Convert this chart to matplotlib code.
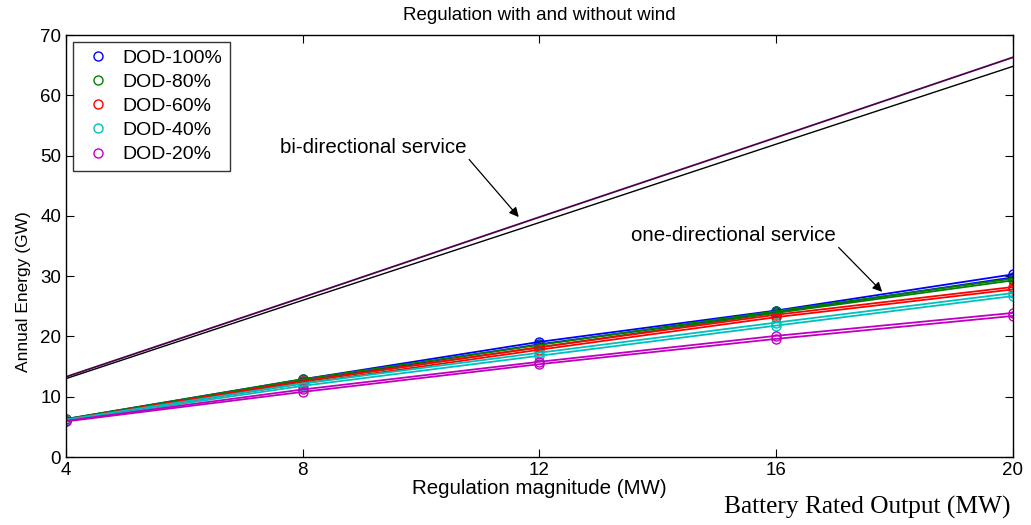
import matplotlib
matplotlib.use('Agg')
from matplotlib import pyplot as plt
import numpy as np

plt.rcParams['font.family'] = ['Liberation Sans', 'DejaVu Sans']

# regulation magnitude (MW)
mw = [4, 8, 12, 16, 20]

# bi-directional service, with / without wind
bi_a = [13.3, 26.5, 39.8, 53.0, 66.3]
bi_b = [13.0, 26.0, 38.9, 51.9, 64.8]

# one-directional service, two runs per depth of discharge
labels = ['DOD-100%', 'DOD-80%', 'DOD-60%', 'DOD-40%', 'DOD-20%']
dod100 = [[6.3, 12.9, 19.1, 24.3, 30.3], [6.2, 12.6, 18.7, 24.0, 29.8]]
dod80 = [[6.3, 12.9, 18.6, 24.2, 29.6], [6.2, 12.5, 18.2, 23.9, 29.3]]
dod60 = [[6.2, 12.6, 18.2, 23.6, 28.2], [6.1, 12.2, 17.8, 23.2, 27.8]]
dod40 = [[6.2, 12.2, 17.3, 22.3, 27.2], [6.0, 11.8, 16.8, 21.8, 26.7]]
dod20 = [[6.0, 11.2, 15.8, 20.1, 23.9], [5.9, 10.8, 15.4, 19.6, 23.4]]
series = [dod100, dod80, dod60, dod40, dod20]
cols = [(0, 0, 1), (0, 0.5, 0), (1, 0, 0), (0, 0.75, 0.75), (0.75, 0, 0.75)]

fig = plt.figure(figsize=(10.31, 5.25), dpi=100)
ax = fig.add_axes([0.064, 0.1295, 0.9185, 0.8038])

ax.plot(mw, bi_a, color=(0.3, 0, 0.3), lw=1.3)
ax.plot(mw, bi_b, color='k', lw=1.0)

handles = []
for s, c, lab in zip(series, cols, labels):
    for k, run in enumerate(s):
        h, = ax.plot(mw, run, 'o', mfc='none', mec=c, ms=6.5, mew=1.0,
                     label=lab if k == 0 else None)
        if k == 0:
            handles.append(h)
for s, c in zip(series, cols):
    for run in s:
        ax.plot(mw, run, '-', color=c, lw=1.3)

ax.set_xlim(4, 20)
ax.set_ylim(0, 70)
ax.set_xticks(mw)
ax.set_yticks(np.arange(0, 71, 10))
ax.tick_params(direction='in', top=True, right=True, labelsize=13.5, length=6, width=0.8)
for sp in ax.spines.values():
    sp.set_linewidth(1.0)

ax.set_title('Regulation with and without wind', fontsize=13.5, pad=11)
ax.set_xlabel('Regulation magnitude (MW)', fontsize=14.8, labelpad=0)
ax.set_ylabel('Annual Energy (GW)', fontsize=12.5)
ax.yaxis.set_label_coords(-0.037, 0.393)

leg = ax.legend(handles=handles, loc='upper left', fontsize=14, frameon=True,
                fancybox=False, edgecolor='k', borderaxespad=0.35,
                handletextpad=0.35, labelspacing=0.33, handlelength=1.8)
leg.get_frame().set_linewidth(1.0)

ax.annotate('bi-directional service', xy=(11.65, 39.8), xytext=(7.62, 51.4),
            fontsize=14.8, va='center', ha='left',
            arrowprops=dict(arrowstyle='-|>', color='k', lw=0.9,
                            shrinkA=0, shrinkB=0, mutation_scale=14,
                            relpos=(1.0, 0.0)))
ax.annotate('one-directional service', xy=(17.79, 27.4), xytext=(13.55, 36.8),
            fontsize=14.8, va='center', ha='left',
            arrowprops=dict(arrowstyle='-|>', color='k', lw=0.9,
                            shrinkA=0, shrinkB=0, mutation_scale=14,
                            relpos=(1.0, 0.0)))

fig.text(0.98, 0.012, 'Battery Rated Output (MW)', family='Liberation Serif',
         fontsize=18.3, ha='right', va='bottom')

fig.savefig('out.png', dpi=100)
